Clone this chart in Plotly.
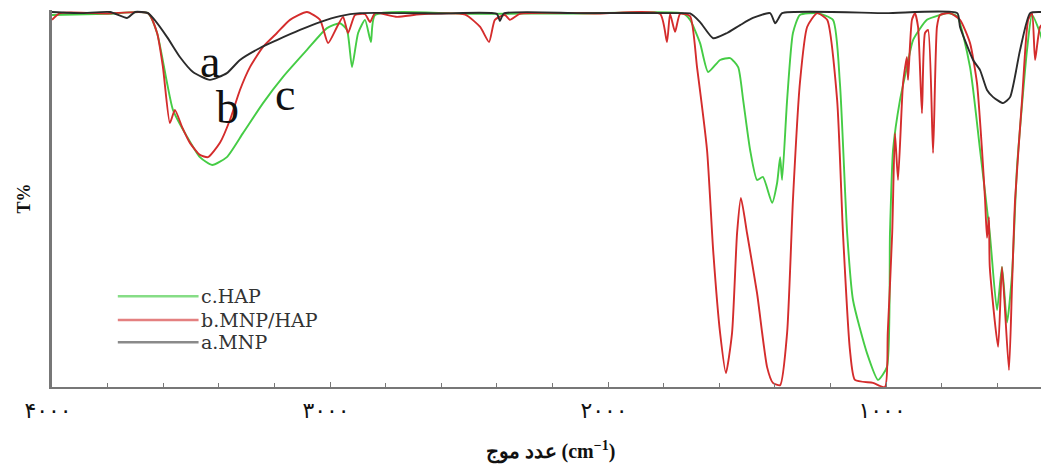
import plotly.graph_objects as go

# ---- data (wavenumber cm^-1, transmittance in arbitrary %) ----
mnp_wn = [4000, 3899, 3791, 3730, 3701, 3655, 3637, 3586, 3540, 3493, 3432, 3371, 3324,
          3252, 3191, 3108, 3036, 2964, 2892, 2600, 2400, 2389, 2375, 2100, 1730, 1705,
          1669, 1622, 1572, 1525, 1479, 1417, 1399, 1389, 1374, 1000, 744, 734, 687, 662,
          637, 615, 579, 554, 518, 482, 446, 414]
mnp_t = [100, 99.7, 100, 98.4, 100, 99.7, 98.4, 93.3, 88, 84, 81.9, 83.7, 87.2,
         90.4, 92.5, 95.2, 97.3, 98.9, 99.7, 99.6, 99.5, 97.6, 99.6, 99.7, 99.7, 99.6,
         97.3, 93, 94.4, 96.5, 98.4, 99.7, 97, 98, 99.7, 99.7, 99.7, 96, 87.2, 84.5,
         79.2, 77.3, 75.7, 77.3, 89.9, 99.7, 100, 99.7]

mnp_hap_wn = [4000, 3971, 3800, 3655, 3622, 3601, 3576, 3558, 3532, 3504, 3468, 3439,
              3396, 3360, 3324, 3288, 3241, 3191, 3144, 3083, 3036, 3007, 2975, 2953,
              2935, 2910, 2874, 2856, 2838, 2759, 2676, 2514, 2460, 2428, 2407, 2371,
              2353, 2317, 2029, 1813, 1788, 1777, 1759, 1741, 1705, 1680, 1644, 1622,
              1597, 1576, 1554, 1536, 1522, 1500, 1464, 1428, 1407, 1381, 1356, 1335,
              1310, 1284, 1248, 1212, 1176, 1155, 1130, 1112, 1047, 1004, 994, 978, 968,
              957, 939, 925, 921, 907, 896, 885, 871, 860, 849, 831, 817, 806, 770, 734,
              698, 673, 655, 644, 637, 630, 627, 597, 583, 558, 547, 536, 511, 489, 475,
              464, 446, 421]
mnp_hap_t = [97.9, 99.7, 99.6, 99.7, 94.4, 85.3, 70.4, 73.9, 69.3, 65.1, 61.9, 61.3,
             65.1, 71.2, 79.2, 85.3, 90.7, 94.4, 97.9, 100, 97.9, 91.7, 96, 98.7,
             94.4, 99.2, 99.4, 97.3, 99.7, 98.7, 99.4, 99.3, 96, 92, 97.9, 99.2,
             97.9, 99.5, 99.6, 99.5, 92, 99.5, 94.7, 99.5, 98.9, 85.3, 63.2, 36.5,
             14.4, 3.7, 14.4, 41, 50.4, 41, 25, 5.3, 1.1, 0.5, 14.4, 49.9,
             81, 96, 99.7, 97.9, 76.5, 41, 9.9, 1.9, 1.1, 0, 14.4, 41, 67.7,
             55.2, 81, 88, 81.9, 97.9, 99.7, 96, 73, 94.4, 95.2, 62.4, 96, 99.2, 99.7, 97.9,
             91.7, 81, 63.2, 50, 39.8, 45.3, 32, 10.7, 32, 4.5, 27, 49.9, 76.5, 97.9, 99.7,
             87.2, 96, 97.9]

hap_wn = [4000, 3800, 3655, 3622, 3586, 3565, 3514, 3468, 3424, 3371, 3313, 3241, 3169,
          3083, 3011, 2964, 2939, 2921, 2899, 2874, 2853, 2838, 2500, 2100, 1730, 1705,
          1669, 1640, 1597, 1561, 1532, 1514, 1489, 1464, 1443, 1410, 1392, 1381, 1374,
          1356, 1335, 1310, 1248, 1191, 1166, 1140, 1119, 1069, 1029, 997, 986, 975, 950,
          925, 903, 853, 806, 781, 745, 698, 662, 627, 601, 583, 565, 547, 529, 493, 475,
          446, 428, 414]
hap_t = [99.2, 99.5, 99.7, 94.4, 81, 73.9, 66.7, 61.3, 59.2, 61.3, 67.7, 75.7, 82.7,
         89.9, 95.7, 97, 95.2, 85.3, 94.4, 97.9, 92, 99.2, 99.5, 99.6, 99.6, 97.9,
         91.7, 84, 87.2, 87.7, 85.3, 76.5, 63.2, 55.2, 56, 49.1, 54.4, 61.3, 55.2,
         76.5, 94.4, 99.2, 99.7, 97.9, 81, 41, 23.2, 9.1, 1.9, 5.3, 41, 63.2, 76.5,
         85.3, 92.5, 97.9, 99.2, 99.7, 98.9, 85.3, 63.2, 41, 20.5, 32, 17.2, 30, 58.7,
         89.9, 99.2, 94.4, 89.9, 89]

x_tick_vals = [4000, 3000, 2000, 1000]
x_tick_text = ["۴۰۰۰", "۳۰۰۰", "۲۰۰۰", "۱۰۰۰"]

series = [
    ("c.HAP", hap_wn, hap_t, "#45cc45"),
    ("b.MNP/HAP", mnp_hap_wn, mnp_hap_t, "#d42c2c"),
    ("a.MNP", mnp_wn, mnp_t, "#2b2b2b"),
]

fig = go.Figure()
for name, xs, ys, col in series:
    fig.add_trace(go.Scatter(
        x=xs, y=ys, mode="lines", name=name,
        line=dict(color=col, width=1.9, shape="spline", smoothing=0.55),
        showlegend=False, hoverinfo="skip"))

serif = "Liberation Serif, Times New Roman, serif"

# curve letters
for txt, xv, yv in [("a", 3432, 86.7), ("b", 3367, 74.4), ("c", 3162, 77.9)]:
    fig.add_annotation(x=xv, y=yv, xref="x", yref="y", text=txt, showarrow=False,
                       font=dict(family=serif, size=46, color="#111"))

# legend (drawn as key lines + labels)
leg = [("c.HAP", "#86dd86", 0.241), ("b.MNP/HAP", "#e48080", 0.178), ("a.MNP", "#8a8a8a", 0.119)]
for label, col, yp in leg:
    fig.add_shape(type="line", xref="paper", yref="paper", x0=0.066, x1=0.147, y0=yp, y1=yp,
                  line=dict(color=col, width=2.5))
    fig.add_annotation(xref="paper", yref="paper", x=0.147, y=yp, xanchor="left", yanchor="middle",
                       showarrow=False, text=label,
                       font=dict(family="DejaVu Serif", size=19, color="#333"))

fig.update_layout(
    width=1041, height=460,
    margin=dict(l=44, r=0, t=2, b=81),
    paper_bgcolor="white", plot_bgcolor="white",
    xaxis=dict(range=[4000, 414], tickvals=x_tick_vals, ticktext=x_tick_text,
               ticks="inside", ticklen=5, tickcolor="#777", showgrid=False, zeroline=False,
               showline=True, linecolor="#777", linewidth=2,
               minor=dict(dtick=200, tick0=0, ticks="inside", ticklen=4, tickcolor="#777", showgrid=False),
               tickfont=dict(family="DejaVu Sans", size=22, color="#111"),
               ticklabelshift=4, ticklabelstandoff=3,
               title=dict(text="<b>عدد موج (cm<sup>−1</sup>)</b>", standoff=22,
                          font=dict(family=serif, size=20, color="#111"))),
    yaxis=dict(range=[0, 100.53], showticklabels=False, ticks="", showgrid=False, zeroline=False,
               showline=True, linecolor="#777", linewidth=2.5,
               title=dict(text="<b>T%</b>", standoff=14, font=dict(family=serif, size=18, color="#111"))),
)

fig.write_html("out.html")
